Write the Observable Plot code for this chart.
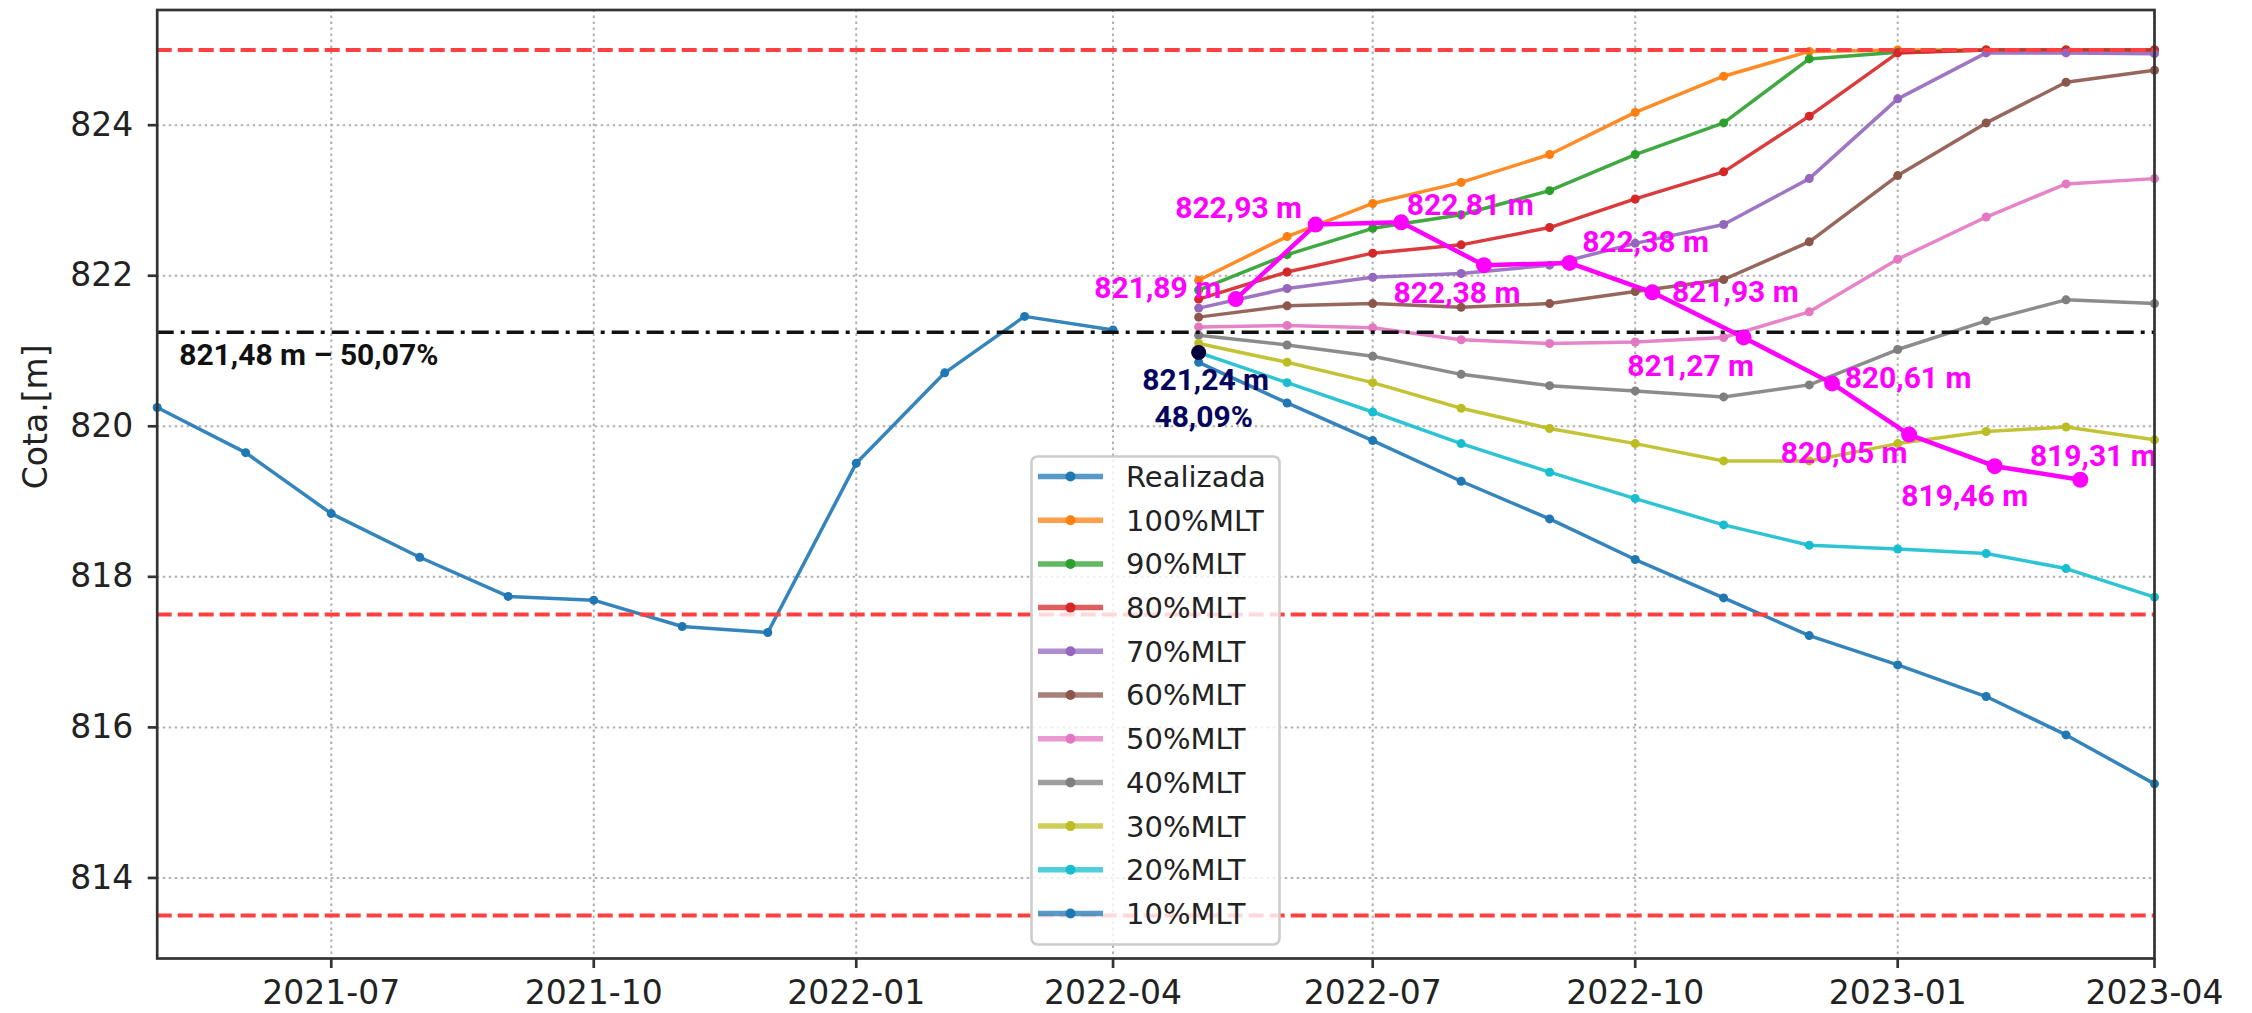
<!DOCTYPE html>
<html><head><meta charset="utf-8">
<script src="https://cdn.jsdelivr.net/npm/d3@7"></script>
<script src="https://cdn.jsdelivr.net/npm/@observablehq/plot@0.6"></script>
<style>
body{margin:0;background:#fff;}
#wrap{position:relative;width:2252px;height:1013px;overflow:hidden;}
#legend{position:absolute;left:1030px;top:455px;}
</style></head><body><div id="wrap"></div>
<script>
// ---------- data ----------
const realDates = ["2021-05-01","2021-06-01","2021-07-01","2021-08-01","2021-09-01","2021-10-01","2021-11-01","2021-12-01","2022-01-01","2022-02-01","2022-03-01","2022-04-01"];
const realValues = [820.25, 819.65, 818.84, 818.26, 817.74, 817.69, 817.34, 817.26, 819.51, 820.71, 821.46, 821.28];
const projDates = ["2022-05-01","2022-06-01","2022-07-01","2022-08-01","2022-09-01","2022-10-01","2022-11-01","2022-12-01","2023-01-01","2023-02-01","2023-03-01","2023-04-01"];
const mlt100 = [821.94, 822.52, 822.96, 823.24, 823.61, 824.17, 824.65, 824.98, 825.00, 825.00, 825.00, 825.00];
const mlt90  = [821.81, 822.28, 822.63, 822.81, 823.13, 823.61, 824.03, 824.88, 824.97, 825.00, 825.00, 825.00];
const mlt80  = [821.69, 822.05, 822.30, 822.41, 822.64, 823.02, 823.38, 824.12, 824.96, 825.00, 825.00, 825.00];
const mlt70  = [821.57, 821.83, 821.98, 822.03, 822.14, 822.43, 822.68, 823.29, 824.35, 824.96, 824.96, 824.95];
const mlt60  = [821.45, 821.60, 821.63, 821.58, 821.63, 821.79, 821.95, 822.45, 823.33, 824.03, 824.57, 824.73];
const mlt50  = [821.32, 821.34, 821.31, 821.15, 821.10, 821.12, 821.18, 821.52, 822.22, 822.78, 823.22, 823.29];
const mlt40  = [821.21, 821.08, 820.93, 820.69, 820.54, 820.47, 820.39, 820.55, 821.02, 821.40, 821.68, 821.63];
const mlt30  = [821.10, 820.85, 820.58, 820.24, 819.97, 819.77, 819.54, 819.54, 819.77, 819.93, 819.99, 819.82];
const mlt20  = [820.98, 820.58, 820.19, 819.77, 819.39, 819.04, 818.69, 818.42, 818.37, 818.31, 818.11, 817.73];
const mlt10  = [820.85, 820.31, 819.81, 819.27, 818.77, 818.23, 817.72, 817.22, 816.83, 816.41, 815.90, 815.25];
const seriesNames = ["Realizada","100%MLT","90%MLT","80%MLT","70%MLT","60%MLT","50%MLT","40%MLT","30%MLT","20%MLT","10%MLT"];
const seriesColors = ["#1f77b4","#ff7f0e","#2ca02c","#d62728","#9467bd","#8c564b","#e377c2","#7f7f7f","#bcbd22","#17becf","#1f77b4"];

const magDates = ["2022-05-14","2022-06-11","2022-07-11","2022-08-09","2022-09-08","2022-10-07","2022-11-08","2022-12-09","2023-01-05","2023-02-04","2023-03-06"];
const magValues = [821.69, 822.68, 822.71, 822.14, 822.17, 821.78, 821.18, 820.57, 819.89, 819.47, 819.29];
const magLabels = ["821,89 m","822,93 m","822,81 m","822,38 m","822,38 m","821,93 m","821,27 m","820,61 m","820,05 m","819,46 m","819,31 m"];

const limitLevels = [825.0, 817.5, 813.5];
const metaLevel = 821.25;
const metaLabel = "821,48 m \u2013 50,07%";
const startDate = "2022-05-01";
const startValue = 820.98;
const startLabels = ["821,24 m", "48,09%"];

const xTickLabels = ["2021-07-01","2021-10-01","2022-01-01","2022-04-01","2022-07-01","2022-10-01","2023-01-01","2023-04-01"];
const yTickValues = [814, 816, 818, 820, 822, 824];
const xDomainDates = ["2021-05-01","2023-04-01"];
const yDomain = [812.93, 825.53];
const yLabel = "Cota.[m]";

// ---------- styles (label offsets in px) ----------
const magDx = [-78, -77, 69, -27, 76, 83, -53, 76, -65, -30, 13];
const magDy = [-11, -16, -17, 28, -21, 0, 29, -5, 19, 30, -23];

// ---------- build ----------
const parse = d3.utcParse("%Y-%m-%d");
const seriesValues = [realValues, mlt100, mlt90, mlt80, mlt70, mlt60, mlt50, mlt40, mlt30, mlt20, mlt10];
const seriesRows = seriesNames.map((name, i) =>
  (i === 0 ? realDates : projDates).map((d, j) => ({date: parse(d), value: seriesValues[i][j], series: name})));
const magRows = magDates.map((d, i) => ({date: parse(d), value: magValues[i], label: magLabels[i]}));
const xTicks = xTickLabels.map(parse);
const grid = {stroke: "#b0b0b0", strokeOpacity: 1, strokeWidth: 2, strokeDasharray: "2.5,3.5"};
const annFont = {fontFamily: "Roboto", fontWeight: "bold", fontSize: 30};

const marks = [
  Plot.gridX(xTicks, grid),
  Plot.gridY(yTickValues, grid),
  ...seriesRows.flatMap((rows, i) => [
    Plot.line(rows, {x: "date", y: "value", stroke: seriesColors[i], strokeWidth: 3.5, strokeOpacity: 0.9}),
    Plot.dot(rows, {x: "date", y: "value", fill: seriesColors[i], r: 4.5})
  ]),
  Plot.ruleY(limitLevels, {stroke: "#ff4040", strokeWidth: 4, strokeDasharray: "15,6"}),
  Plot.ruleY([metaLevel], {stroke: "#111", strokeWidth: 3.5, strokeDasharray: "17,7,4,7"}),
  Plot.text([metaLabel], {x: [parse(xDomainDates[0])], y: [metaLevel], text: d => d, textAnchor: "start", dx: 22, dy: 23, fill: "#111", ...annFont}),
  Plot.line(magRows, {x: "date", y: "value", stroke: "#ff00ff", strokeWidth: 4.5}),
  Plot.dot(magRows, {x: "date", y: "value", fill: "#ff00ff", r: 8}),
  ...magRows.map((r, i) => Plot.text([r], {x: "date", y: "value", text: "label", dx: magDx[i], dy: magDy[i], fill: "#ff00ff", ...annFont})),
  Plot.dot([0], {x: [parse(startDate)], y: [startValue], fill: "#00003c", r: 7.5}),
  Plot.text([startLabels[0]], {x: [parse(startDate)], y: [startValue], text: d => d, dx: 7, dy: 28, fill: "#05055e", ...annFont}),
  Plot.text([startLabels[1]], {x: [parse(startDate)], y: [startValue], text: d => d, dx: 5, dy: 65, fill: "#05055e", ...annFont}),
  Plot.frame({stroke: "#333", strokeWidth: 2.7}),
  Plot.axisX(xTicks, {tickFormat: d3.utcFormat("%Y-%m"), tickSize: 10, tickPadding: 12, fontSize: 33, stroke: "#333", strokeWidth: 2.7, fill: "#222", label: null}),
  Plot.axisY(yTickValues, {tickFormat: d => String(d), tickSize: 9, tickPadding: 15, fontSize: 33, stroke: "#333", strokeWidth: 2.7, fill: "#222", label: null}),
  Plot.text([yLabel], {frameAnchor: "left", dx: -121, dy: 5, rotate: -90, fontSize: 33, fill: "#222", text: d => d})
];

const chart = Plot.plot({
  width: 2252, height: 1013,
  marginLeft: 156.7, marginRight: 98, marginTop: 9.5, marginBottom: 55,
  x: {type: "utc", domain: xDomainDates.map(parse)},
  y: {domain: yDomain},
  style: {fontFamily: "DejaVu Sans", background: "white", overflow: "visible"},
  marks
});
const wrap = document.getElementById("wrap");
wrap.appendChild(chart);

// ---------- legend overlay ----------
const lg = d3.select(wrap).append("svg").attr("id", "legend").attr("width", 252).attr("height", 492);
lg.append("rect").attr("x", 1.5).attr("y", 1.5).attr("width", 248).attr("height", 488).attr("rx", 6)
  .attr("fill", "white").attr("fill-opacity", 0.8).attr("stroke", "#cccccc").attr("stroke-width", 2.5);
seriesNames.forEach((name, i) => {
  const y = 21.5 + i * 43.7;
  lg.append("line").attr("x1", 8).attr("x2", 73).attr("y1", y).attr("y2", y)
    .attr("stroke", seriesColors[i]).attr("stroke-width", 5.5).attr("stroke-opacity", 0.75);
  lg.append("circle").attr("cx", 40.5).attr("cy", y).attr("r", 5).attr("fill", seriesColors[i]);
  lg.append("text").attr("x", 96).attr("y", y).attr("dy", "0.36em").attr("font-family", "DejaVu Sans")
    .attr("font-size", 29).attr("fill", "#222").text(name);
});
</script></body></html>
